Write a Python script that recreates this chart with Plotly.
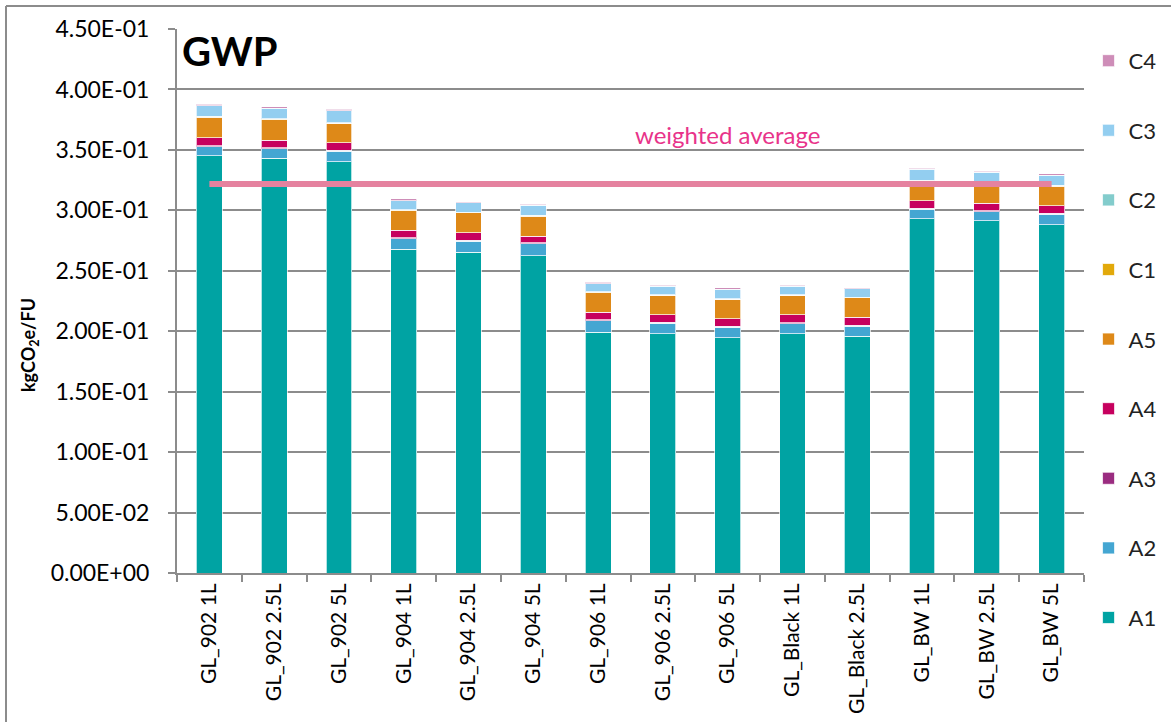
import plotly.graph_objects as go

categories = ["GL_902 1L", "GL_902 2.5L", "GL_902 5L", "GL_904 1L", "GL_904 2.5L",
              "GL_904 5L", "GL_906 1L", "GL_906 2.5L", "GL_906 5L", "GL_Black 1L",
              "GL_Black 2.5L", "GL_BW 1L", "GL_BW 2.5L", "GL_BW 5L"]

A1 = [0.3452, 0.3430, 0.3400, 0.2678, 0.2655, 0.2625, 0.1991, 0.1980, 0.1946, 0.1980, 0.1958, 0.2931, 0.2912, 0.2879]
A2 = [0.0075, 0.0078, 0.0089, 0.0088, 0.0089, 0.0097, 0.0096, 0.0086, 0.0087, 0.0083, 0.0085, 0.0080, 0.0077, 0.0088]
A3 = [0.0008, 0.0008, 0.0008, 0.0008, 0.0008, 0.0008, 0.0008, 0.0008, 0.0008, 0.0008, 0.0008, 0.0008, 0.0008, 0.0008]
A4 = [0.0066, 0.0063, 0.0062, 0.0063, 0.0063, 0.0055, 0.0064, 0.0063, 0.0063, 0.0066, 0.0064, 0.0061, 0.0061, 0.0063]
A5 = [0.0171, 0.0171, 0.0161, 0.0160, 0.0163, 0.0168, 0.0160, 0.0160, 0.0160, 0.0160, 0.0160, 0.0163, 0.0163, 0.0163]
C1 = [0.0002, 0.0002, 0.0002, 0.0002, 0.0002, 0.0002, 0.0002, 0.0002, 0.0002, 0.0002, 0.0002, 0.0002, 0.0002, 0.0002]
C2 = [0.0004, 0.0004, 0.0004, 0.0004, 0.0004, 0.0004, 0.0004, 0.0004, 0.0004, 0.0004, 0.0004, 0.0004, 0.0004, 0.0004]
C3 = [0.0088, 0.0088, 0.0098, 0.0077, 0.0077, 0.0082, 0.0068, 0.0071, 0.0079, 0.0071, 0.0071, 0.0090, 0.0087, 0.0085]
C4 = [0.0011, 0.0011, 0.0012, 0.0014, 0.0011, 0.0011, 0.0011, 0.0008, 0.0011, 0.0008, 0.0008, 0.0009, 0.0011, 0.0011]

weighted_average = 0.3218

y_tick_vals = [0.0, 0.05, 0.10, 0.15, 0.20, 0.25, 0.30, 0.35, 0.40, 0.45]
y_tick_text = ["0.00E+00", "5.00E-02", "1.00E-01", "1.50E-01", "2.00E-01",
               "2.50E-01", "3.00E-01", "3.50E-01", "4.00E-01", "4.50E-01"]

series = [
    ("A1", A1, "#00A3A3"),
    ("A2", A2, "#44A6D2"),
    ("A3", A3, "#9A2C80"),
    ("A4", A4, "#C6005E"),
    ("A5", A5, "#DE8918"),
    ("C1", C1, "#E2A90A"),
    ("C2", C2, "#83CCCC"),
    ("C3", C3, "#93CEF0"),
    ("C4", C4, "#CE8DB8"),
]

FONT = "Lato"
fig = go.Figure()
n = len(series)
for i, (name, vals, color) in enumerate(series):
    fig.add_trace(go.Bar(
        x=categories, y=vals, name=name, legendgroup=name, legendrank=n - i,
        marker=dict(color=color, line=dict(color="rgba(255,255,255,0.7)", width=1)),
    ))

fig.add_trace(go.Scatter(
    x=[categories[0], categories[-1]], y=[weighted_average, weighted_average],
    mode="lines", line=dict(color="#E5829F", width=6), showlegend=False, hoverinfo="skip",
))

L, T, W, H = 177, 29, 907, 544
def px_x(p):
    return (p - L) / W
def px_y(p):
    return (T + H - p) / H

fig.add_annotation(x=categories[8], y=0.3631, text="weighted average", showarrow=False,
                   font=dict(family=FONT, size=24, color="#E8338A"), xanchor="center", yanchor="middle")
fig.add_annotation(x=px_x(180), y=px_y(25), xref="paper", yref="paper", text="<b>GWP</b>", showarrow=False,
                   font=dict(family=FONT, size=40, color="black"), xanchor="left", yanchor="top")
fig.add_annotation(x=px_x(30), y=px_y(345), xref="paper", yref="paper", text="<b>kgCO<sub>2</sub>e/FU</b>",
                   showarrow=False, textangle=-90, font=dict(family=FONT, size=18, color="black"),
                   xanchor="center", yanchor="middle")

# outer frame (top and left edges)
fig.add_shape(type="line", xref="paper", yref="paper", x0=px_x(6), x1=px_x(1171), y0=px_y(6), y1=px_y(6),
              line=dict(color="#8c8c8c", width=2))
fig.add_shape(type="line", xref="paper", yref="paper", x0=px_x(6), x1=px_x(6), y0=px_y(6), y1=px_y(722),
              line=dict(color="#8c8c8c", width=2))

fig.update_layout(
    width=1171, height=722,
    margin=dict(l=L, r=1171 - L - W, t=T, b=722 - T - H, autoexpand=False),
    barmode="stack", bargap=0.6,
    plot_bgcolor="white", paper_bgcolor="white",
    font=dict(family=FONT, size=20, color="black"),
    legend=dict(x=1.005, y=0.98, xanchor="left", yanchor="top", traceorder="grouped",
                tracegroupgap=38, font=dict(family=FONT, size=22, color="#222"),
                bgcolor="rgba(0,0,0,0)", maxheight=700),
    xaxis=dict(type="category", showgrid=False, showline=True, linecolor="#8c8c8c", linewidth=2,
               ticks="outside", tickson="boundaries", ticklen=7, tickcolor="#8c8c8c", tickwidth=2,
               tickangle=-90, tickfont=dict(family=FONT, size=21, color="black"), mirror=False),
    yaxis=dict(range=[0, 0.45], tickvals=y_tick_vals, ticktext=y_tick_text, showgrid=True,
               gridcolor="#8c8c8c", gridwidth=2, showline=True, linecolor="#8c8c8c", linewidth=2,
               ticks="outside", ticklen=7, tickcolor="#8c8c8c", tickwidth=2, zeroline=False,
               ticklabelstandoff=14,
               tickfont=dict(family=FONT, size=23, color="black")),
)

fig.write_html("out.html", config={"displayModeBar": False},
               post_script="document.body.style.margin='0';document.body.style.padding='0';")
